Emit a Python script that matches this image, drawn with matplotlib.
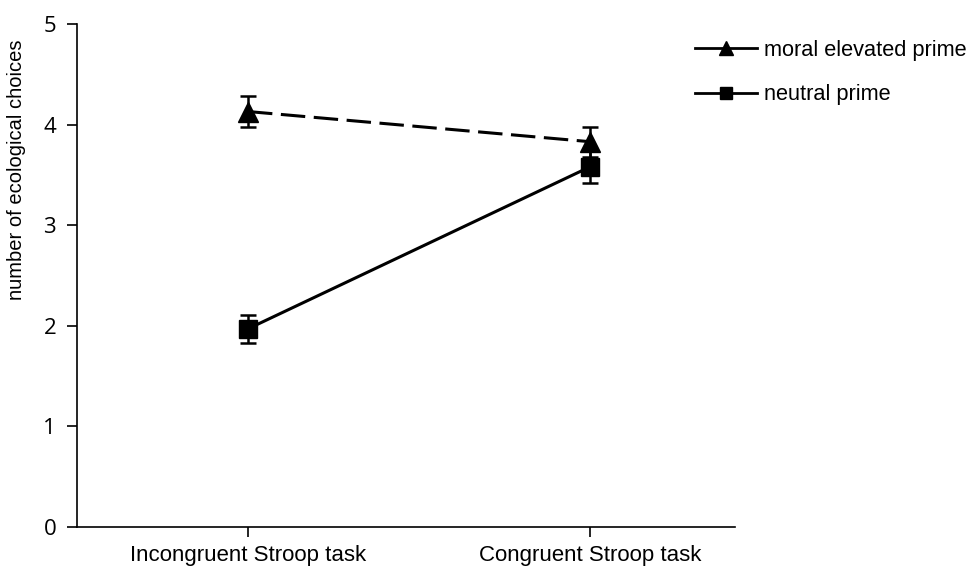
import matplotlib
matplotlib.use("Agg")
import matplotlib.pyplot as plt
from matplotlib.lines import Line2D

categories = ["Incongruent Stroop task", "Congruent Stroop task"]
series_names = ["moral elevated prime", "neutral prime"]
moral_mean = [4.13, 3.83]
moral_err = [0.155, 0.15]
neutral_mean = [1.97, 3.58]
neutral_err = [0.14, 0.16]
y_ticks = [0, 1, 2, 3, 4, 5]

fig = plt.figure(figsize=(9.74, 5.69), dpi=100)
ax = fig.add_axes([77/974, 1-527/569, (735-77)/974, (527-24)/569])

x = list(range(len(categories)))
ax.errorbar(x, moral_mean, yerr=moral_err, color="black", lw=2.2,
            ls=(0, (8, 2.8)), marker="^", ms=15, capsize=6, capthick=1.8,
            elinewidth=1.8, zorder=3)
ax.errorbar(x, neutral_mean, yerr=neutral_err, color="black", lw=2.2,
            ls="-", marker="s", ms=13, capsize=6, capthick=1.8,
            elinewidth=1.8, zorder=3)

ax.set_xlim(-0.5, 1.424)
ax.set_ylim(0, 5)
ax.set_xticks(x)
ax.set_xticklabels(categories, fontsize=16, family="Liberation Sans")
ax.set_yticks(y_ticks)
ax.set_yticklabels([str(v) for v in y_ticks], fontsize=16, family="Open Sans")
ax.tick_params(axis="both", direction="out", length=7, width=1.2, colors="black")
ax.tick_params(axis="x", pad=6)
ax.tick_params(axis="y", pad=8)
for s in ["top", "right"]:
    ax.spines[s].set_visible(False)
for s in ["left", "bottom"]:
    ax.spines[s].set_linewidth(1.2)
ax.set_ylabel("number of ecological choices", fontsize=14.5, family="Liberation Sans")
ax.yaxis.set_label_coords(-0.0775, 0.71)

handles = [
    Line2D([], [], color="black", lw=2.0, marker="^", ms=10),
    Line2D([], [], color="black", lw=2.0, marker="s", ms=9),
]
fig.legend(handles, series_names, loc="upper left", bbox_to_anchor=(675/974, 1-20/569),
           frameon=False, handlelength=2.85, handletextpad=0.35,
           labelspacing=1.09, prop={"family": "Liberation Sans", "size": 15.7})

fig.savefig("out.png", dpi=100)
